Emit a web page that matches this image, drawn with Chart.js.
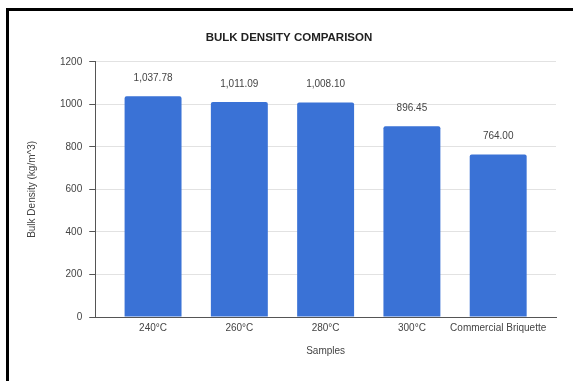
<!DOCTYPE html>
<html>
<head>
<meta charset="utf-8">
<script src="https://cdn.jsdelivr.net/npm/chart.js@4.4.1/dist/chart.umd.min.js"></script>
<style>
    html, body { margin: 0; padding: 0; background: #fff; overflow: hidden; }
    #chart { display: block; }
</style>
</head>
<body>
<canvas id="chart" width="573" height="381"></canvas>
<script>
// Chart data
const categories = ['240°C', '260°C', '280°C', '300°C', 'Commercial Briquette'];
const bulkDensity = [1037.78, 1011.09, 1008.10, 896.45, 764.00];
const yTicks = [0, 200, 400, 600, 800, 1000, 1200];

const FONT = "'Liberation Sans', Arial, sans-serif";
const TEXT_COLOR = '#444';
const BAR_COLOR = '#3a72d6';

// White background plus the black frame on the top and left edges
const frame = {
    id: 'frame',
    beforeDraw(chart) {
        const c = chart.ctx;
        c.save();
        c.fillStyle = '#fff';
        c.fillRect(0, 0, chart.width, chart.height);
        c.restore();
    },
    afterDraw(chart) {
        const c = chart.ctx;
        c.save();
        c.fillStyle = '#000';
        c.fillRect(6, 8, chart.width - 6, 3);
        c.fillRect(6, 8, 3, chart.height - 8);
        c.restore();
    }
};

// Draws the value above each bar
const valueLabels = {
    id: 'valueLabels',
    afterDatasetsDraw(chart) {
        const ctx = chart.ctx;
        const meta = chart.getDatasetMeta(0);
        ctx.save();
        ctx.font = '10px ' + FONT;
        ctx.fillStyle = TEXT_COLOR;
        ctx.textAlign = 'center';
        ctx.textBaseline = 'middle';
        meta.data.forEach((bar, i) => {
            const txt = bulkDensity[i].toLocaleString('en-US', {
                minimumFractionDigits: 2,
                maximumFractionDigits: 2
            });
            ctx.fillText(txt, bar.x, bar.y - 18);
        });
        ctx.restore();
    }
};

const ctx = document.getElementById('chart').getContext('2d');
new Chart(ctx, {
    type: 'bar',
    data: {
        datasets: [{
            data: bulkDensity.map((v, i) => ({ x: i, y: v })),
            backgroundColor: BAR_COLOR,
            borderRadius: { topLeft: 2, topRight: 2 },
            borderSkipped: 'bottom',
            categoryPercentage: 1,
            barPercentage: 0.66,
        }]
    },
    options: {
        responsive: false,
        animation: false,
        devicePixelRatio: 1,
        layout: { padding: { left: 22, right: 17, top: 0, bottom: 20 } },
        plugins: {
            legend: { display: false },
            tooltip: { enabled: false },
            title: {
                display: true,
                text: 'BULK DENSITY COMPARISON',
                color: '#222',
                font: { family: FONT, size: 11.5, weight: 'bold' },
                padding: { top: 31, bottom: 17 }
            }
        },
        scales: {
            x: {
                type: 'linear',
                offset: false,
                min: -0.67,
                max: 4.67,
                afterBuildTicks: (scale) => {
                    scale.ticks = categories.map((_, i) => ({ value: i }));
                },
                ticks: {
                    autoSkip: false,
                    maxRotation: 0,
                    padding: 5,
                    color: TEXT_COLOR,
                    font: { family: FONT, size: 10 },
                    callback: (v) => categories[v] ?? ''
                },
                grid: { display: false, drawTicks: false },
                border: { display: true, color: '#555', width: 1 },
                title: {
                    display: true,
                    text: 'Samples',
                    color: TEXT_COLOR,
                    font: { family: FONT, size: 10 },
                    padding: { top: 6, bottom: 4 }
                }
            },
            y: {
                min: 0,
                max: 1200,
                afterBuildTicks: (scale) => {
                    scale.ticks = yTicks.map(v => ({ value: v }));
                },
                ticks: {
                    padding: 7,
                    color: TEXT_COLOR,
                    font: { family: FONT, size: 10 },
                    callback: (v) => String(v)
                },
                grid: {
                    color: '#e2e2e2',
                    tickColor: '#555',
                    tickLength: 6
                },
                border: { display: true, color: '#555', width: 1 },
                title: {
                    display: true,
                    text: 'Bulk Density (kg/m^3)',
                    color: TEXT_COLOR,
                    font: { family: FONT, size: 10 },
                    padding: { top: 4, bottom: 15 }
                }
            }
        }
    },
    plugins: [frame, valueLabels]
});
</script>
</body>
</html>
